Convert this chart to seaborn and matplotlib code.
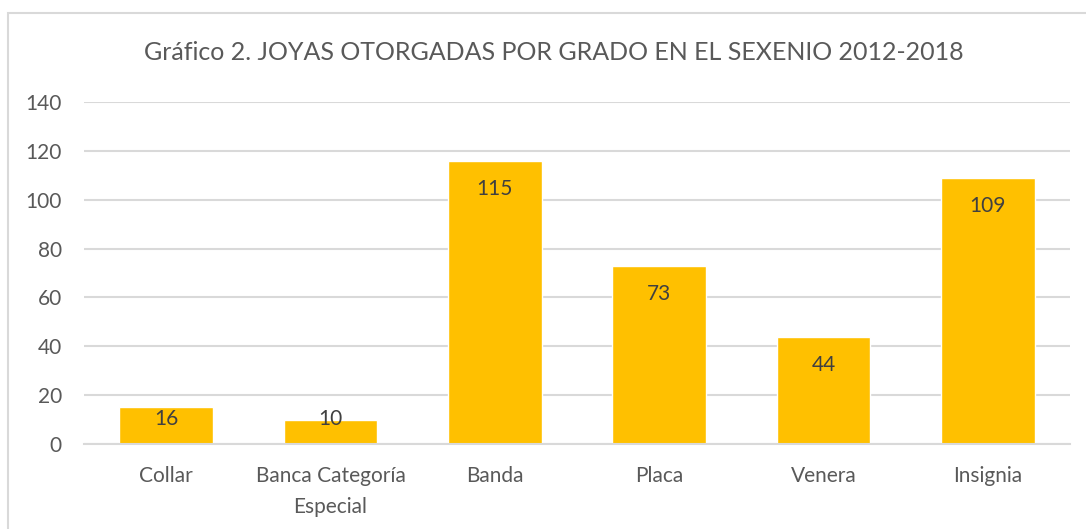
import matplotlib.pyplot as plt
import matplotlib.patches as patches
import seaborn as sns
import pandas as pd

# values
categorias = ["Collar", "Banca Categoría\nEspecial", "Banda", "Placa", "Venera", "Insignia"]
alturas = [15, 10, 116, 73, 44, 109]          # bar heights as drawn
etiquetas = ["16", "10", "115", "73", "44", "109"]  # data labels as printed

df = pd.DataFrame({"Grado": categorias, "Joyas": alturas})

sns.set_theme(style="white")
plt.rcParams["font.family"] = ["Lato", "DejaVu Sans"]

txt = "#595959"
grid = "#D9D9D9"

fig = plt.figure(figsize=(10.86, 5.29), dpi=100)
ax = fig.add_axes([84 / 1086, 1 - 444 / 529, (1070 - 84) / 1086, (444 - 102) / 529])

sns.barplot(data=df, x="Grado", y="Joyas", color="#FFC000", saturation=1,
            width=0.57, ax=ax, zorder=3)

ax.set_ylim(0, 140)
ax.set_xlim(-0.5, 5.5)
ax.set_yticks(range(0, 141, 20))
ax.yaxis.grid(True, color=grid, linewidth=1.5, zorder=0)
ax.set_axisbelow(True)
for s in ["top", "right", "left"]:
    ax.spines[s].set_visible(False)
ax.spines["bottom"].set_color(grid)
ax.spines["bottom"].set_linewidth(1.5)
ax.spines["bottom"].set_zorder(4)
ax.tick_params(axis="both", length=0, colors=txt, labelsize=15)
ax.tick_params(axis="x", pad=16)
ax.tick_params(axis="y", pad=16)
ax.set_xlabel("")
ax.set_ylabel("")
for lab in ax.get_xticklabels():
    lab.set_linespacing(1.65)
    lab.set_va("top")

# data labels inside the top of each bar
for i, (h, t) in enumerate(zip(alturas, etiquetas)):
    y = max(h - 11.5, 10.2)
    ax.text(i, y, t, ha="center", va="center", fontsize=15, color="#404040", zorder=5)

fig.text(554 / 1086, 1 - 52 / 529, "Gráfico 2. JOYAS OTORGADAS POR GRADO EN EL SEXENIO 2012-2018",
         ha="center", va="center", fontsize=18, color=txt)

# chart frame
fig.patches.append(patches.Rectangle((8 / 1086, -0.1), 1.1, 0.1 + 1 - 13 / 529,
                                     transform=fig.transFigure, fill=False,
                                     edgecolor=grid, linewidth=1.5))

fig.savefig("out.png", dpi=100)
